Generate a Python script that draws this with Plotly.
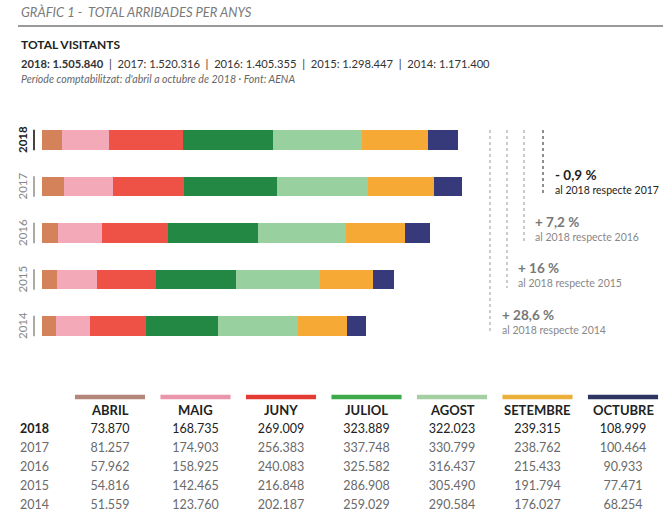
import plotly.graph_objects as go

W, H = 671, 521

# ── dades ────────────────────────────────────────────
anys = ['2018', '2017', '2016', '2015', '2014']
mesos = ['ABRIL', 'MAIG', 'JUNY', 'JULIOL', 'AGOST', 'SETEMBRE', 'OCTUBRE']
abril = [73870, 81257, 57962, 54816, 51559]
maig = [168735, 174903, 158925, 142465, 123760]
juny = [269009, 256383, 240083, 216848, 202187]
juliol = [323889, 337748, 325582, 286908, 259029]
agost = [322023, 330799, 316437, 305490, 290584]
setembre = [239315, 238762, 215433, 191794, 176027]
octubre = [108999, 100464, 90933, 77471, 68254]
totals = ['1.505.840', '1.520.316', '1.405.355', '1.298.447', '1.171.400']
variacions = ['- 0,9 %', '+ 7,2 %', '+ 16 %', '+ 28,6 %']
anys_ref = ['2017', '2016', '2015', '2014']

series = [abril, maig, juny, juliol, agost, setembre, octubre]
colors_bar = ['#D4825A', '#F4A9B8', '#EE5246', '#228844', '#98D0A0', '#F7A935', '#363A7A']
colors_taula = ['#B5877A', '#E995AB', '#E33B31', '#3DAA4A', '#A3CFA3', '#EAB03A', '#2E3560']

FONT = 'Lato'


def px(x):
    return x / W


def py(y):
    return 1 - y / H


def fmt(v):
    return f'{v:,}'.replace(',', '.')


fig = go.Figure()

# ── barres apilades ───────────────────────────────────
for mes, vals, col in zip(mesos, series, colors_bar):
    fig.add_trace(go.Bar(
        x=vals, y=list(range(len(anys))), orientation='h', name=mes,
        marker=dict(color=col, line=dict(width=0)),
        width=0.41, hoverinfo='x+name', xaxis='x', yaxis='y',
    ))

# ── taula ─────────────────────────────────────────────
for i, any_ in enumerate(anys):
    vals = [s[i] for s in series]
    fig.add_trace(go.Scatter(
        x=list(range(len(mesos))), y=[i] * len(mesos),
        mode='text', text=[fmt(v) for v in vals],
        textfont=dict(family=FONT, size=12.5,
                      color='#222' if i == 0 else '#6a6a6a'),
        xaxis='x2', yaxis='y2', hoverinfo='skip', showlegend=False,
    ))

annotations = []
shapes = []

# capçalera
annotations += [
    dict(text='<i>GRÀFIC 1 -  TOTAL ARRIBADES PER ANYS</i>', x=px(19), y=py(12),
         xref='paper', yref='paper', xanchor='left', yanchor='middle', showarrow=False,
         font=dict(family=FONT, size=13, color='#7a7a7a')),
    dict(text='<b>TOTAL VISITANTS</b>', x=px(19), y=py(44),
         xref='paper', yref='paper', xanchor='left', yanchor='middle', showarrow=False,
         font=dict(family=FONT, size=12, color='#222')),
    dict(text='<b>%s: %s</b>' % (anys[0], totals[0]) + ''.join(
        '  |  %s: %s' % (a, t) for a, t in zip(anys[1:], totals[1:])),
         x=px(19), y=py(63),
         xref='paper', yref='paper', xanchor='left', yanchor='middle', showarrow=False,
         font=dict(family=FONT, size=11.2, color='#333')),
    dict(text="<i>Període comptabilitzat: d'abril a octubre de 2018 · Font: AENA</i>",
         x=px(19), y=py(79),
         xref='paper', yref='paper', xanchor='left', yanchor='middle', showarrow=False,
         font=dict(family=FONT, size=10.6, color='#666')),
]
shapes.append(dict(type='line', xref='paper', yref='paper', x0=px(18), x1=px(663),
                   y0=py(26), y1=py(26), line=dict(color='#9a9a9a', width=2)))

# etiquetes d'any
for i, any_ in enumerate(anys):
    annotations.append(dict(
        text='<b>%s</b>' % any_ if i == 0 else any_, x=px(22), y=i,
        xref='paper', yref='y', textangle=-90, showarrow=False,
        xanchor='center', yanchor='middle',
        font=dict(family=FONT, size=11.5, color='#222' if i == 0 else '#888')))
    shapes.append(dict(type='line', xref='paper', yref='y', x0=px(34), x1=px(34),
                       y0=i - 0.22, y1=i + 0.22,
                       line=dict(color='#444' if i == 0 else '#aaa', width=2)))

# variacions
linia_x = [543, 524, 507, 490]
linia_fi = [193, 242, 288, 333]
text_x = [553, 533, 516, 500]
text_y = [175, 222, 268, 315]
for k, (var, ref) in enumerate(zip(variacions, anys_ref)):
    fosc = k == 0
    shapes.append(dict(type='line', xref='paper', yref='paper',
                       x0=px(linia_x[k]), x1=px(linia_x[k]), y0=py(130), y1=py(linia_fi[k]),
                       line=dict(color='#444' if fosc else '#aaa', width=1.2, dash='dot')))
    annotations.append(dict(
        text='<b>%s</b>' % var, x=px(text_x[k]), y=py(text_y[k]),
        xref='paper', yref='paper', xanchor='left', yanchor='middle', showarrow=False,
        font=dict(family=FONT, size=13.5, color='#222' if fosc else '#777')))
    annotations.append(dict(
        text='al 2018 respecte %s' % ref, x=px(text_x[k]), y=py(text_y[k] + 15),
        xref='paper', yref='paper', xanchor='left', yanchor='middle', showarrow=False,
        font=dict(family=FONT, size=10.5, color='#222' if fosc else '#888')))

# capçalera de la taula
for j, (mes, col) in enumerate(zip(mesos, colors_taula)):
    shapes.append(dict(type='line', xref='x2', yref='y2', x0=j - 0.41, x1=j + 0.41,
                       y0=-1.74, y1=-1.74, line=dict(color=col, width=4.5)))
    annotations.append(dict(
        text='<b>%s</b>' % mes, x=j, y=-1.05, xref='x2', yref='y2',
        showarrow=False, xanchor='center', yanchor='middle',
        font=dict(family=FONT, size=13, color='#222')))
for i, any_ in enumerate(anys):
    annotations.append(dict(
        text='<b>%s</b>' % any_ if i == 0 else any_, x=px(18), y=i - 0.1,
        xref='paper', yref='y2', xanchor='left', yanchor='middle', showarrow=False,
        font=dict(family=FONT, size=12.5, color='#222' if i == 0 else '#6a6a6a')))

# ── eixos ─────────────────────────────────────────────
bar_y0, bar_y1 = 140 - 23.25, 326 + 23.25
tab_top, tab_bot = 430 - 2.4 * 19, 430 + 4.5 * 19

fig.update_layout(
    width=W, height=H, margin=dict(l=0, r=0, t=0, b=0),
    paper_bgcolor='white', plot_bgcolor='white',
    barmode='stack', showlegend=False,
    font=dict(family=FONT),
    xaxis=dict(domain=[px(42), px(462)], range=[0, 1520316],
               visible=False, fixedrange=True),
    yaxis=dict(domain=[py(bar_y1), py(bar_y0)], range=[4.5, -0.5],
               visible=False, fixedrange=True),
    xaxis2=dict(domain=[px(110 - 42.75), px(623 + 42.75)], range=[-0.5, 6.5],
                visible=False, fixedrange=True),
    yaxis2=dict(domain=[py(tab_bot), py(tab_top)], range=[4.5, -2.4],
                visible=False, fixedrange=True),
    annotations=annotations, shapes=shapes,
)

fig.write_html('out.html', config={'displayModeBar': False},
               post_script="document.body.style.margin='0';")
